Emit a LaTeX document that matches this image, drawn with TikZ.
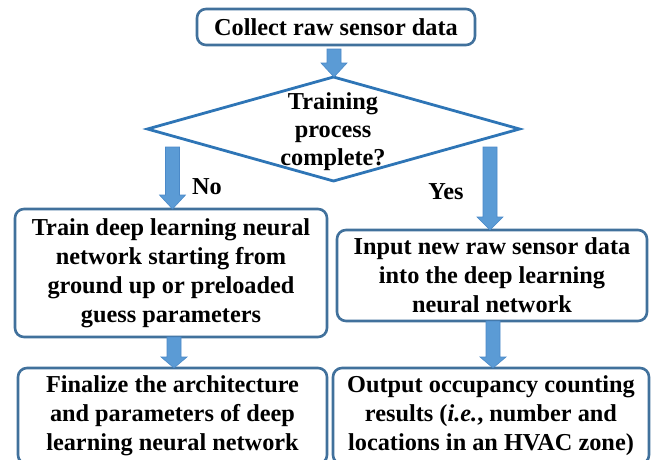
\documentclass[tikz,border=0pt]{standalone}
\usepackage{fontspec}
\setmainfont{Liberation Serif}
\usetikzlibrary{shapes.geometric,calc}

\definecolor{boxline}{HTML}{41719C}
\definecolor{diamline}{HTML}{2E75B6}
\definecolor{arrowfill}{HTML}{5B9BD5}
\definecolor{arrowline}{HTML}{4A89C8}

\tikzset{
  txt/.style={font=\fontsize{24.3}{29}\selectfont\bfseries, inner sep=0pt, outer sep=0pt, align=center},
  stepbox/.style={txt, draw=boxline, line width=2.6pt, rounded corners=9pt, fill=white},
  decision/.style={diamond, draw=diamline, line width=2.8pt, inner sep=0pt, outer sep=0pt},
  blockarrow/.style={fill=arrowfill, draw=arrowline, line width=0.6pt},
}

% thick downward block arrow: #1 start, #2 tip, #3 head length
\newcommand{\flowarrow}[3]{%
  \filldraw[blockarrow] let \p1=(#1), \p2=(#2) in
    (\x1-7pt,\y1) -- (\x1+7pt,\y1) -- (\x1+7pt,\y2+#3) -- (\x1+13pt,\y2+#3)
    -- (\x1,\y2) -- (\x1-13pt,\y2+#3) -- (\x1-7pt,\y2+#3) -- cycle;}

\begin{document}
\begin{tikzpicture}[x=1pt,y=-1pt]
\useasboundingbox (0,0) rectangle (654,459);

% boxes
\node[stepbox, minimum width=278, minimum height=36] (collect) at (336,27)
  {Collect raw sensor data};
\node[decision, minimum width=372, minimum height=104] (decide) at (333.5,129) {};
\node[txt] (decideText) at (333,132) {Training\\[-1pt]process\\[-1pt]complete?};

\node[stepbox, minimum width=312, minimum height=128] (train) at (171,273)
  {Train deep learning neural\\network starting from\\ground up or preloaded\\guess parameters};
\node[stepbox, minimum width=310, minimum height=91] (input) at (492,275.5)
  {Input new raw sensor data\\into the deep learning\\neural network};
\node[stepbox, minimum width=309, minimum height=96] (final) at (172.5,416)
  {Finalize the architecture\\and parameters of deep\\learning neural network};
\node[stepbox, minimum width=316, minimum height=96] (output) at (491,416)
  {Output occupancy counting\\results (\textit{i.e.}, number and\\locations in an HVAC zone)};

% branch labels
\node[txt] (noLabel) at (207,187) {No};
\node[txt] (yesLabel) at (446,192) {Yes};

% connectors
\coordinate (c1) at ($(collect.south)+(-2,4)$);
\flowarrow{c1}{decide.north}{14pt}

\coordinate (noStart) at (172.5,147);
\flowarrow{noStart}{noStart |- train.north}{14pt}

\coordinate (yesStart) at (490,147);
\flowarrow{yesStart}{yesStart |- input.north}{13pt}

\coordinate (t2) at ($(train.south)+(3,0)$);
\flowarrow{t2}{t2 |- final.north}{11pt}

\coordinate (i2) at ($(input.south)+(1,0)$);
\flowarrow{i2}{i2 |- output.north}{11pt}
\end{tikzpicture}
\end{document}
